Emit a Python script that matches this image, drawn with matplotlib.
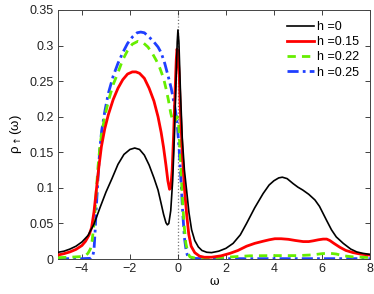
import matplotlib
matplotlib.use("Agg")
import matplotlib.pyplot as plt

# h = 0
x_h0 = [-5, -4.75, -4.5, -4.25, -4.0, -3.75, -3.5, -3.25, -3.0, -2.75, -2.5, -2.25, -2.0, -1.8,
        -1.6, -1.4, -1.2, -1.0, -0.83, -0.7, -0.6, -0.5, -0.44, -0.38, -0.3, -0.22, -0.15,
        -0.08, -0.03, 0.0, 0.04, 0.1, 0.18, 0.27, 0.36, 0.46, 0.57, 0.7, 0.85, 1.0, 1.2, 1.4,
        1.7, 2.0, 2.3, 2.6, 2.86, 3.2, 3.55, 3.8, 4.0, 4.2, 4.35, 4.55, 4.8, 5.0, 5.2, 5.45,
        5.71, 5.9, 6.05, 6.2, 6.4, 6.6, 6.89, 7.2, 7.45, 7.7, 8.0]
y_h0 = [0.0094, 0.011, 0.014, 0.018, 0.024, 0.033, 0.049, 0.072, 0.094, 0.113, 0.133, 0.147,
        0.154, 0.156, 0.154, 0.146, 0.132, 0.114, 0.097, 0.078, 0.063, 0.051, 0.048, 0.05,
        0.068, 0.11, 0.17, 0.25, 0.305, 0.322, 0.305, 0.24, 0.17, 0.125, 0.097, 0.065, 0.041,
        0.026, 0.017, 0.012, 0.0095, 0.009, 0.011, 0.015, 0.022, 0.034, 0.05, 0.072, 0.092,
        0.104, 0.11, 0.114, 0.115, 0.113, 0.106, 0.101, 0.097, 0.091, 0.083, 0.074, 0.064,
        0.054, 0.041, 0.031, 0.022, 0.014, 0.010, 0.008, 0.0065]

# h = 0.15
x_h15 = [-5, -4.75, -4.5, -4.25, -4.0, -3.85, -3.7, -3.6, -3.5, -3.4, -3.3, -3.19, -3.05, -2.9,
         -2.7, -2.5, -2.3, -2.1, -1.9, -1.75, -1.6, -1.4, -1.2, -1.0, -0.83, -0.7, -0.6, -0.5,
         -0.42, -0.35, -0.3, -0.24, -0.18, -0.12, -0.07, -0.04, 0.0, 0.05, 0.1, 0.18, 0.27,
         0.36, 0.45, 0.55, 0.7, 0.9, 1.1, 1.4, 1.8, 2.17, 2.5, 2.86, 3.2, 3.55, 3.8, 4.04,
         4.3, 4.6, 4.9, 5.22, 5.45, 5.63, 5.85, 6.05, 6.2, 6.33, 6.5, 6.75, 7.0, 7.3, 7.6, 8.0]
y_h15 = [0.0056, 0.0075, 0.010, 0.0135, 0.019, 0.025, 0.034, 0.044, 0.066, 0.097, 0.128, 0.158,
         0.183, 0.203, 0.224, 0.24, 0.252, 0.26, 0.263, 0.263, 0.261, 0.254, 0.24, 0.222, 0.2,
         0.178, 0.157, 0.132, 0.11, 0.098, 0.1, 0.125, 0.175, 0.235, 0.28, 0.295, 0.29, 0.26,
         0.21, 0.15, 0.1, 0.064, 0.035, 0.018, 0.009, 0.004, 0.0025, 0.0025, 0.0045, 0.008,
         0.012, 0.018, 0.022, 0.025, 0.027, 0.0285, 0.0285, 0.0277, 0.026, 0.0245, 0.0245,
         0.0255, 0.027, 0.028, 0.028, 0.026, 0.022, 0.0165, 0.012, 0.009, 0.007, 0.0055]

# h = 0.22
x_h22 = [-5, -4.5, -4.0, -3.85, -3.75, -3.65, -3.58, -3.52, -3.46, -3.4, -3.33, -3.26, -3.18,
         -3.05, -2.9, -2.7, -2.5, -2.3, -2.1, -1.9, -1.67, -1.45, -1.25, -1.05, -0.9, -0.75,
         -0.6, -0.5, -0.4, -0.3, -0.2, -0.1, -0.03, 0.03, 0.1, 0.17, 0.25, 0.33, 0.42, 0.5,
         0.7, 1.2, 2.0, 3.0, 4.0, 5.0, 5.6, 6.0, 6.3, 6.6, 6.9, 7.3, 8.0]
y_h22 = [0.002, 0.0025, 0.0035, 0.005, 0.008, 0.014, 0.025, 0.042, 0.066, 0.097, 0.13, 0.155,
         0.176, 0.2, 0.222, 0.245, 0.262, 0.28, 0.293, 0.302, 0.306, 0.304, 0.298, 0.288,
         0.279, 0.268, 0.254, 0.24, 0.224, 0.205, 0.192, 0.195, 0.2, 0.19, 0.145, 0.095, 0.05,
         0.022, 0.008, 0.003, 0.0015, 0.0015, 0.0025, 0.0045, 0.0048, 0.0048, 0.0058, 0.0075,
         0.0082, 0.007, 0.0045, 0.003, 0.002]

# h = 0.25
x_h25 = [-5, -4, -3.62, -3.56, -3.5, -3.45, -3.4, -3.33, -3.26, -3.18, -3.05, -2.9, -2.7, -2.5,
         -2.3, -2.1, -1.9, -1.7, -1.55, -1.4, -1.2, -1.0, -0.83, -0.7, -0.55, -0.4, -0.28,
         -0.19, -0.1, -0.03, 0.05, 0.12, 0.2, 0.27, 0.35, 0.42, 0.55, 1.0, 8.0]
y_h25 = [0.0005, 0.0005, 0.001, 0.003, 0.012, 0.04, 0.074, 0.115, 0.153, 0.18, 0.207, 0.233,
         0.257, 0.275, 0.29, 0.303, 0.312, 0.318, 0.319, 0.318, 0.312, 0.305, 0.298, 0.29,
         0.275, 0.256, 0.24, 0.224, 0.208, 0.19, 0.155, 0.115, 0.065, 0.03, 0.01, 0.003,
         0.001, 0.0005, 0.0005]

labels = ["h =0", "h =0.15", "h =0.22", "h =0.25"]
xticks = [-4, -2, 0, 2, 4, 6, 8]
yticks = [0, 0.05, 0.1, 0.15, 0.2, 0.25, 0.3, 0.35]
ytick_labels = ["0", "0.05", "0.1", "0.15", "0.2", "0.25", "0.3", "0.35"]

plt.rcParams['font.family'] = ['Liberation Sans', 'DejaVu Sans']
plt.rcParams['mathtext.fontset'] = 'dejavusans'

fig = plt.figure(figsize=(3.74, 2.94), dpi=100)
ax = fig.add_axes([0.155, 0.119, 0.834, 0.847])

ax.axvline(0, color='#777777', linestyle=':', linewidth=0.9, zorder=1)
ax.plot(x_h0, y_h0, color='black', linewidth=1.2, label=labels[0], zorder=5)
ax.plot(x_h15, y_h15, color='#ff0000', linewidth=2.0, label=labels[1], zorder=4)
ax.plot(x_h22, y_h22, color='#66ee00', linewidth=2.0, linestyle=(0, (3, 2.2)), label=labels[2], zorder=3)
ax.plot(x_h25, y_h25, color='#1f3fff', linewidth=2.0, linestyle=(0, (4, 1.5, 1, 1.5)), label=labels[3], zorder=2)

ax.set_xlim(-5, 8)
ax.set_ylim(0, 0.35)
ax.set_xticks(xticks)
ax.set_yticks(yticks)
ax.set_yticklabels(ytick_labels)
ax.tick_params(direction='in', top=True, right=True, length=3.5, width=0.6,
               labelsize=9, colors='#222222', pad=3)
for s in ax.spines.values():
    s.set_color('#444444')
    s.set_linewidth(0.7)

ax.set_xlabel('ω', family='DejaVu Serif', fontsize=8.5, labelpad=0)
ax.set_ylabel('ρ$_{\\uparrow}$(ω)', fontsize=9.5, labelpad=4)

leg = ax.legend(loc='upper right', frameon=False, fontsize=9, handlelength=2.2,
                handletextpad=0.2, labelspacing=0.25, borderaxespad=0.5)

fig.savefig('out.png', dpi=100)
